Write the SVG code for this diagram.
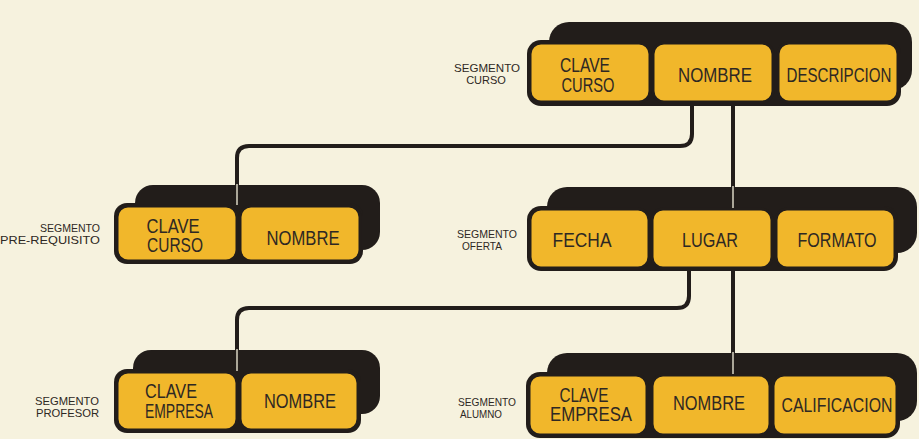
<svg xmlns="http://www.w3.org/2000/svg" width="919" height="439" viewBox="0 0 919 439">
<style>
.bg{fill:#f6f2de}
.sh{fill:#221d1a}
.base{fill:#221d1a}
.box{fill:#f1b72b;stroke:#221d1a;stroke-width:3}
.t{font-family:"Liberation Sans",Arial,sans-serif;font-size:20px;fill:#2e2823;text-anchor:middle}
.lb{font-family:"Liberation Sans",Arial,sans-serif;font-size:11px;fill:#2e2823}
.c{fill:none;stroke:#221d1a;stroke-width:4}
.ci{fill:none;stroke:#f6f2de;stroke-width:1.3}
</style>
<rect class="bg" x="0" y="0" width="919" height="439"/>

<g id="seg-curso">
  <rect class="sh" x="549" y="22" width="363" height="68" rx="20"/>
  <rect class="base" x="527" y="40" width="374" height="66" rx="14"/>
  <rect class="box" x="530" y="43" width="120" height="59" rx="11"/>
  <rect class="box" x="653" y="43" width="120" height="59" rx="11"/>
  <rect class="box" x="778" y="43" width="120" height="59" rx="11"/>
  <text class="t" x="585" y="72" textLength="50" lengthAdjust="spacingAndGlyphs">CLAVE</text>
  <text class="t" x="588" y="92" textLength="53" lengthAdjust="spacingAndGlyphs">CURSO</text>
  <text class="t" x="715" y="82" textLength="74" lengthAdjust="spacingAndGlyphs">NOMBRE</text>
  <text class="t" x="839" y="82" font-size="19" textLength="105" lengthAdjust="spacingAndGlyphs">DESCRIPCION</text>
  <text class="lb" x="487" y="72" text-anchor="middle" textLength="66" lengthAdjust="spacingAndGlyphs">SEGMENTO</text>
  <text class="lb" x="486" y="84" text-anchor="middle">CURSO</text>
</g>

<g id="seg-prerequisito">
  <rect class="sh" x="135" y="185" width="245" height="65" rx="18"/>
  <rect class="base" x="114" y="203" width="249" height="61" rx="13"/>
  <rect class="box" x="117" y="206" width="120" height="55" rx="11"/>
  <rect class="box" x="240" y="206" width="120" height="55" rx="11"/>
  <text class="t" x="173" y="233" textLength="53" lengthAdjust="spacingAndGlyphs">CLAVE</text>
  <text class="t" x="175" y="252" textLength="56" lengthAdjust="spacingAndGlyphs">CURSO</text>
  <text class="t" x="303" y="245" textLength="73" lengthAdjust="spacingAndGlyphs">NOMBRE</text>
  <text class="lb" x="100" y="232" text-anchor="end" textLength="60" lengthAdjust="spacingAndGlyphs">SEGMENTO</text>
  <text class="lb" x="100" y="244" text-anchor="end" textLength="100" lengthAdjust="spacingAndGlyphs">PRE-REQUISITO</text>
</g>

<g id="seg-oferta">
  <rect class="sh" x="547" y="187" width="370" height="66" rx="20"/>
  <rect class="base" x="527" y="206" width="371" height="65" rx="14"/>
  <rect class="box" x="530" y="209" width="119" height="59" rx="11"/>
  <rect class="box" x="652" y="209" width="120" height="59" rx="11"/>
  <rect class="box" x="776" y="209" width="119" height="59" rx="11"/>
  <text class="t" x="582" y="247" textLength="59" lengthAdjust="spacingAndGlyphs">FECHA</text>
  <text class="t" x="710" y="247" textLength="56" lengthAdjust="spacingAndGlyphs">LUGAR</text>
  <text class="t" x="837" y="247" textLength="79" lengthAdjust="spacingAndGlyphs">FORMATO</text>
  <text class="lb" x="487" y="238" text-anchor="middle" textLength="60" lengthAdjust="spacingAndGlyphs">SEGMENTO</text>
  <text class="lb" x="482" y="250" text-anchor="middle" textLength="40" lengthAdjust="spacingAndGlyphs">OFERTA</text>
</g>

<g id="seg-profesor">
  <rect class="sh" x="133" y="350" width="247" height="64" rx="18"/>
  <rect class="base" x="114" y="369" width="247" height="64" rx="13"/>
  <rect class="box" x="117" y="372" width="120" height="58" rx="11"/>
  <rect class="box" x="240" y="372" width="118" height="58" rx="11"/>
  <text class="t" x="171" y="398" textLength="52" lengthAdjust="spacingAndGlyphs">CLAVE</text>
  <text class="t" x="179" y="418" textLength="68" lengthAdjust="spacingAndGlyphs">EMPRESA</text>
  <text class="t" x="300" y="408" textLength="72" lengthAdjust="spacingAndGlyphs">NOMBRE</text>
  <text class="lb" x="99" y="405" text-anchor="end" textLength="64" lengthAdjust="spacingAndGlyphs">SEGMENTO</text>
  <text class="lb" x="99" y="417" text-anchor="end" textLength="63" lengthAdjust="spacingAndGlyphs">PROFESOR</text>
</g>

<g id="seg-alumno">
  <rect class="sh" x="547" y="353" width="370" height="68" rx="20"/>
  <rect class="base" x="526" y="372" width="374" height="66" rx="14"/>
  <rect class="box" x="529" y="375" width="118" height="60" rx="11"/>
  <rect class="box" x="652" y="375" width="118" height="60" rx="11"/>
  <rect class="box" x="773" y="375" width="124" height="60" rx="11"/>
  <text class="t" x="584" y="402" textLength="49" lengthAdjust="spacingAndGlyphs">CLAVE</text>
  <text class="t" x="591" y="421" textLength="82" lengthAdjust="spacingAndGlyphs">EMPRESA</text>
  <text class="t" x="709" y="410" textLength="72" lengthAdjust="spacingAndGlyphs">NOMBRE</text>
  <text class="t" x="837" y="412" font-size="19" textLength="111" lengthAdjust="spacingAndGlyphs">CALIFICACION</text>
  <text class="lb" x="487" y="406" text-anchor="middle" textLength="58" lengthAdjust="spacingAndGlyphs">SEGMENTO</text>
  <text class="lb" x="481" y="418" text-anchor="middle" textLength="42" lengthAdjust="spacingAndGlyphs">ALUMNO</text>
</g>

<g id="connectors">
  <path class="c" d="M692,104 V134 Q692,146 680,146 H249 Q237,146 237,158 V205"/>
  <path class="c" d="M733,104 V208"/>
  <path class="c" d="M689,270 V296 Q689,308 677,308 H249 Q237,308 237,320 V371"/>
  <path class="c" d="M733,270 V374"/>
  <path class="ci" d="M237,184 V205"/>
  <path class="ci" d="M733,186 V208"/>
  <path class="ci" d="M237,349 V371"/>
  <path class="ci" d="M733,352 V374"/>
</g>
</svg>
